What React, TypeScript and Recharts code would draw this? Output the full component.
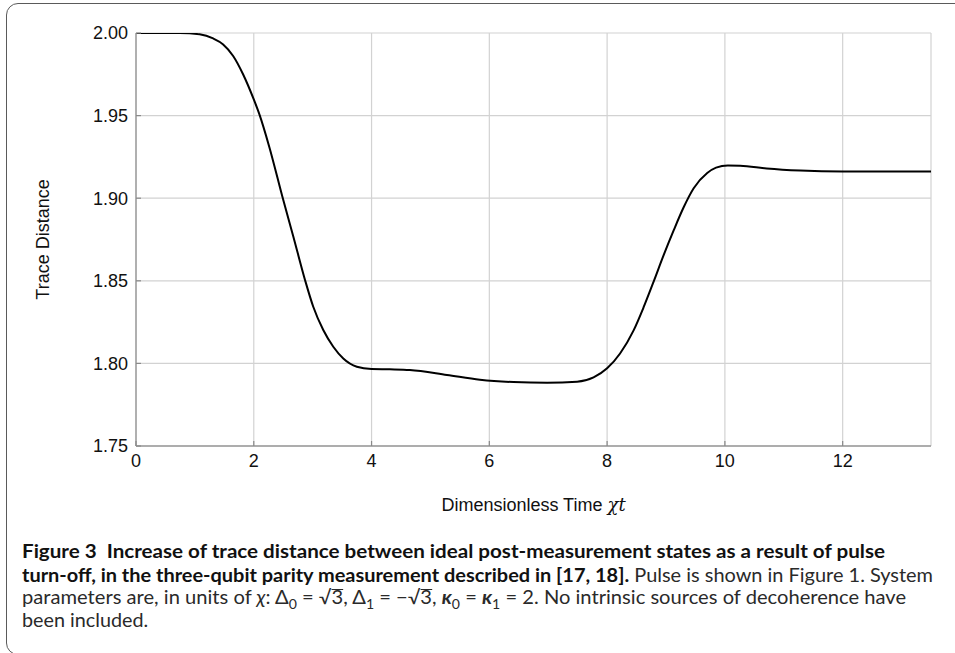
import React, { useLayoutEffect, useRef } from 'react';
import { LineChart, Line, XAxis, YAxis, CartesianGrid, Label } from 'recharts';

const timeValues = [
  0, 0.74, 1.08, 1.31, 1.48, 1.65, 1.82, 2.0, 2.1, 2.26, 2.5, 2.67, 2.87, 3.01, 3.18, 3.35, 3.52, 3.75, 4.0,
  4.31, 4.65, 5.28, 5.84, 6.41, 6.98, 7.49, 7.77, 8.0, 8.22, 8.45, 8.62, 8.79, 8.96, 9.13, 9.3, 9.47, 9.7,
  9.85, 10.05, 10.26, 10.71, 11.28, 12.0, 13.5,
];
const traceValues = [
  2.0, 2.0, 1.9992, 1.9967, 1.9931, 1.9861, 1.9749, 1.9598, 1.9503, 1.9315, 1.899, 1.877, 1.8505, 1.8343,
  1.8202, 1.8101, 1.803, 1.798, 1.7966, 1.7964, 1.796, 1.793, 1.7901, 1.7887, 1.7883, 1.7889, 1.7915, 1.797,
  1.806, 1.82, 1.834, 1.8495, 1.8655, 1.8805, 1.8945, 1.906, 1.9152, 1.9185, 1.9198, 1.9197, 1.918, 1.9167,
  1.9161, 1.9161,
];
const xTicks = [0, 2, 4, 6, 8, 10, 12];
const yTicks = [1.75, 1.8, 1.85, 1.9, 1.95, 2.0];
const xDomain = [0, 13.5];
const yDomain = [1.75, 2.0];

const data = timeValues.map((t, i) => ({ t, d: traceValues[i] }));

const AXIS_FONT = '"Liberation Sans", Arial, sans-serif';
const TICK_COLOR = '#8a8a8a';
const FRAME_COLOR = '#9a9a9a';

const BottomTick = (props: any) => {
  const { x, y, payload } = props;
  return (
    <g>
      <line x1={x} x2={x} y1={y - 8} y2={y - 13} stroke={TICK_COLOR} strokeWidth={1.2} />
      <text x={x} y={y} dy="0.71em" textAnchor="middle" fontSize={18} fill="#111" fontFamily={AXIS_FONT}>
        {payload.value}
      </text>
    </g>
  );
};

const LeftTick = (props: any) => {
  const { x, y, payload } = props;
  return (
    <g>
      <line x1={x + 8} x2={x + 13} y1={y} y2={y} stroke={TICK_COLOR} strokeWidth={1.2} />
      <text x={x} y={y} dy="0.36em" textAnchor="end" fontSize={18} fill="#111" fontFamily={AXIS_FONT}>
        {Number(payload.value).toFixed(2)}
      </text>
    </g>
  );
};

const TopTick = (props: any) => {
  const { x, y } = props;
  return <line x1={x} x2={x} y1={y} y2={y + 5} stroke={TICK_COLOR} strokeWidth={1.2} />;
};

const RightTick = (props: any) => {
  const { x, y } = props;
  return <line x1={x} x2={x - 5} y1={y} y2={y} stroke={TICK_COLOR} strokeWidth={1.2} />;
};

const XTitle = (props: any) => {
  const vb = props.viewBox || {};
  return (
    <text x={vb.x + vb.width / 2} y={vb.y + 65} textAnchor="middle" fontSize={18} fill="#111" fontFamily={AXIS_FONT}>
      Dimensionless Time{' '}
      <tspan fontFamily='"DejaVu Serif", "Liberation Serif", serif' fontStyle="italic">
        χt
      </tspan>
    </text>
  );
};

const YTitle = (props: any) => {
  const vb = props.viewBox || {};
  const cx = vb.x + 43;
  const cy = vb.y + vb.height / 2;
  return (
    <text
      x={cx}
      y={cy}
      dy="0.36em"
      textAnchor="middle"
      fontSize={18}
      fill="#111"
      fontFamily={AXIS_FONT}
      transform={`rotate(-90, ${cx}, ${cy})`}
    >
      Trace Distance
    </text>
  );
};

const captionLines = [
  { top: 558.3, target: 863 },
  { top: 581.7, target: 911 },
  { top: 604, target: 884 },
  { top: 626.7, target: 126 },
];

const subStyle: React.CSSProperties = { fontSize: '0.7em' };
const rootStyle: React.CSSProperties = {
  display: 'inline-block',
  borderTop: '1.2px solid currentColor',
  lineHeight: '14px',
};

export default function App() {
  const refs = useRef<(HTMLSpanElement | null)[]>([]);
  useLayoutEffect(() => {
    refs.current.forEach((el, i) => {
      if (!el) return;
      const w = el.offsetWidth;
      if (w > 0) {
        el.style.transform = `scaleX(${captionLines[i].target / w})`;
      }
    });
  }, []);

  const capFont = 'Lato, "Noto Sans", sans-serif';
  const lineStyle = (i: number): React.CSSProperties => ({
    position: 'absolute',
    left: 22,
    top: captionLines[i].top - 17,
    fontSize: 19,
    lineHeight: '19px',
    whiteSpace: 'nowrap',
    transformOrigin: '0 0',
    display: 'inline-block',
    fontFamily: capFont,
    color: '#2a2a2a',
  });

  return (
    <div
      style={{
        position: 'fixed',
        left: 0,
        top: 0,
        width: 955,
        height: 653,
        overflow: 'hidden',
        background: '#fff',
      }}
    >
      <div
        style={{
          position: 'absolute',
          left: 6,
          top: 3,
          width: 1000,
          height: 652,
          border: '1.5px solid #5a5a5a',
          borderRadius: 12,
          boxSizing: 'border-box',
        }}
      />
      <div style={{ position: 'absolute', left: 0, top: 0 }}>
        <LineChart width={955} height={516} data={data} margin={{ top: 33, right: 24, bottom: 0, left: 0 }}>
          <CartesianGrid stroke="#d2d2d2" strokeWidth={1.2} />
          <XAxis
            dataKey="t"
            type="number"
            domain={xDomain}
            ticks={xTicks}
            allowDataOverflow
            height={70}
            tickSize={0}
            tickMargin={8}
            tickLine={false}
            axisLine={{ stroke: FRAME_COLOR, strokeWidth: 1.4 }}
            tick={<BottomTick />}
            interval={0}
          >
            <Label content={<XTitle />} />
          </XAxis>
          <XAxis
            xAxisId="top"
            orientation="top"
            dataKey="t"
            type="number"
            domain={xDomain}
            ticks={xTicks}
            height={0}
            tickSize={0}
            tickMargin={0}
            tickLine={false}
            axisLine={{ stroke: FRAME_COLOR, strokeWidth: 1.4 }}
            tick={<TopTick />}
            interval={0}
          />
          <YAxis
            type="number"
            domain={yDomain}
            ticks={yTicks}
            allowDataOverflow
            width={136}
            tickSize={0}
            tickMargin={8}
            tickLine={false}
            axisLine={{ stroke: FRAME_COLOR, strokeWidth: 1.4 }}
            tick={<LeftTick />}
            interval={0}
          >
            <Label content={<YTitle />} />
          </YAxis>
          <YAxis
            yAxisId="right"
            orientation="right"
            type="number"
            domain={yDomain}
            ticks={yTicks}
            width={0}
            tickSize={0}
            tickMargin={0}
            tickLine={false}
            axisLine={{ stroke: FRAME_COLOR, strokeWidth: 1.4 }}
            tick={<RightTick />}
            interval={0}
          />
          <Line
            type="monotone"
            dataKey="d"
            stroke="#000"
            strokeWidth={2}
            dot={false}
            activeDot={false}
            isAnimationActive={false}
          />
        </LineChart>
      </div>
      <span ref={(el) => { refs.current[0] = el; }} style={{ ...lineStyle(0), fontWeight: 700, color: '#111' }}>
        Figure 3&nbsp;&nbsp;Increase of trace distance between ideal post-measurement states as a result of pulse
      </span>
      <span ref={(el) => { refs.current[1] = el; }} style={lineStyle(1)}>
        <b style={{ color: '#111' }}>turn-off, in the three-qubit parity measurement described in [17, 18].</b> Pulse is
        shown in Figure 1. System
      </span>
      <span ref={(el) => { refs.current[2] = el; }} style={lineStyle(2)}>
        parameters are, in units of <i>χ</i>: Δ<sub style={subStyle}>0</sub> = √<span style={rootStyle}>3</span>, Δ
        <sub style={subStyle}>1</sub> = −√<span style={rootStyle}>3</span>, <b><i>κ</i></b>
        <sub style={subStyle}>0</sub> = <b><i>κ</i></b>
        <sub style={subStyle}>1</sub> = 2. No intrinsic sources of decoherence have
      </span>
      <span ref={(el) => { refs.current[3] = el; }} style={lineStyle(3)}>
        been included.
      </span>
    </div>
  );
}
